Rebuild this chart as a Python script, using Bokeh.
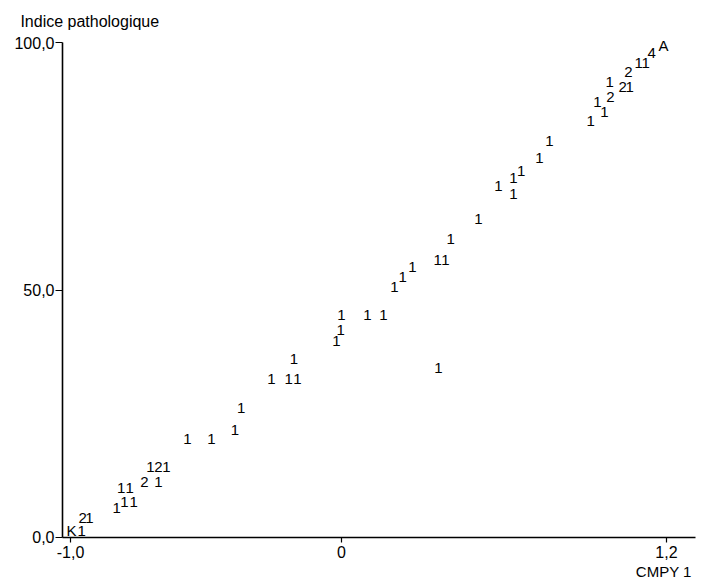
from bokeh.plotting import figure
from bokeh.models import Range1d, FixedTicker, CustomJSTickFormatter, Label, ColumnDataSource
from bokeh.core.properties import value
from bokeh.embed import file_html
from bokeh.resources import INLINE

# CMPY 1 (x) and Indice pathologique (y); label = number of observations at the spot
x_vals = [-0.996, -0.959, -0.955, -0.930, -0.830, -0.801, -0.767, -0.813, -0.782,
          -0.727, -0.675, -0.705, -0.675, -0.646, -0.568, -0.480, -0.393, -0.370,
          -0.258, -0.195, -0.162, -0.175, -0.018, -0.003, 0.000, 0.096, 0.155,
          0.358, 0.196, 0.226, 0.262, 0.355, 0.384, 0.403, 0.506, 0.580, 0.635,
          0.635, 0.664, 0.731, 0.768, 0.920, 0.971, 0.945, 0.993, 0.990, 1.038,
          1.064, 1.060, 1.097, 1.123, 1.145, 1.189]
y_vals = [1.41, 1.41, 3.84, 3.84, 5.86, 7.27, 7.27, 9.90, 9.90,
          11.31, 11.31, 14.34, 14.34, 14.34, 19.80, 19.80, 21.72, 26.26,
          31.92, 31.92, 31.92, 36.16, 39.60, 41.82, 44.85, 44.85, 44.85,
          34.34, 50.51, 52.53, 54.55, 56.16, 56.16, 60.40, 64.44, 70.91, 69.49,
          72.53, 74.14, 76.57, 80.20, 84.24, 85.86, 87.88, 89.09, 92.12, 90.91,
          90.91, 94.14, 95.76, 95.76, 97.78, 99.39]
labels = ["K", "1", "2", "1", "1", "1", "1", "1", "1",
          "2", "1", "1", "2", "1", "1", "1", "1", "1",
          "1", "1", "1", "1", "1", "1", "1", "1", "1",
          "1", "1", "1", "1", "1", "1", "1", "1", "1", "1",
          "1", "1", "1", "1", "1", "1", "1", "2", "1", "2",
          "1", "2", "1", "1", "4", "A"]

x_ticks = [-1.0, 0.0, 1.2]
y_ticks = [0, 50, 100]
x_title = "CMPY 1"
y_title = "Indice pathologique"

FONT = "Liberation Sans"

X0, X1 = -1.0295, 1.3071   # extent of the drawn x axis
p = figure(width=703, height=580, output_backend="svg", toolbar_location=None,
           x_range=Range1d(-1.2584, 1.3367), y_range=Range1d(-8.687, 108.485),
           min_border=0)
p.outline_line_color = None
p.xgrid.visible = False
p.ygrid.visible = False
p.background_fill_color = "white"
p.border_fill_color = "white"

for ax in (p.xaxis[0], p.yaxis[0]):
    ax.axis_line_color = "black"
    ax.axis_line_width = 1.6
    ax.major_tick_line_color = "black"
    ax.major_tick_line_width = 1.2
    ax.minor_tick_line_color = None
    ax.major_tick_in = 0
    ax.major_label_text_font = FONT
    ax.major_label_text_font_size = "16px"
    ax.major_label_text_color = "black"

xa = p.xaxis[0]
xa.fixed_location = 0
xa.bounds = (X0, X1)
xa.ticker = FixedTicker(ticks=x_ticks)
xa.major_tick_out = 5
xa.major_label_standoff = 4
xa.formatter = CustomJSTickFormatter(
    code="if (Math.abs(tick) < 1e-9) { return '0'; } return tick.toFixed(1).replace('.', ',');")

ya = p.yaxis[0]
ya.fixed_location = X0
ya.bounds = (0, 100)
ya.ticker = FixedTicker(ticks=y_ticks)
ya.major_tick_out = 7
ya.major_label_standoff = 1
ya.major_label_text_baseline = "alphabetic"
ya.formatter = CustomJSTickFormatter(code="return tick.toFixed(1).replace('.', ',');")

src = ColumnDataSource(dict(x=x_vals, y=y_vals, label=labels))
p.text(x="x", y="y", text="label", source=src, text_align="center", text_baseline="middle",
       text_font=value(FONT), text_font_size="15px", text_color="black")

p.add_layout(Label(x=-1.185, y=104.24, text=y_title, text_font=FONT, text_font_size="16px",
                   text_align="left", text_baseline="alphabetic", text_color="black"))
p.add_layout(Label(x=1.19, y=-6.87, text=x_title, text_font=FONT, text_font_size="15px",
                   text_align="center", text_baseline="alphabetic", text_color="black"))

open("out.html", "w").write(file_html(p, INLINE))
